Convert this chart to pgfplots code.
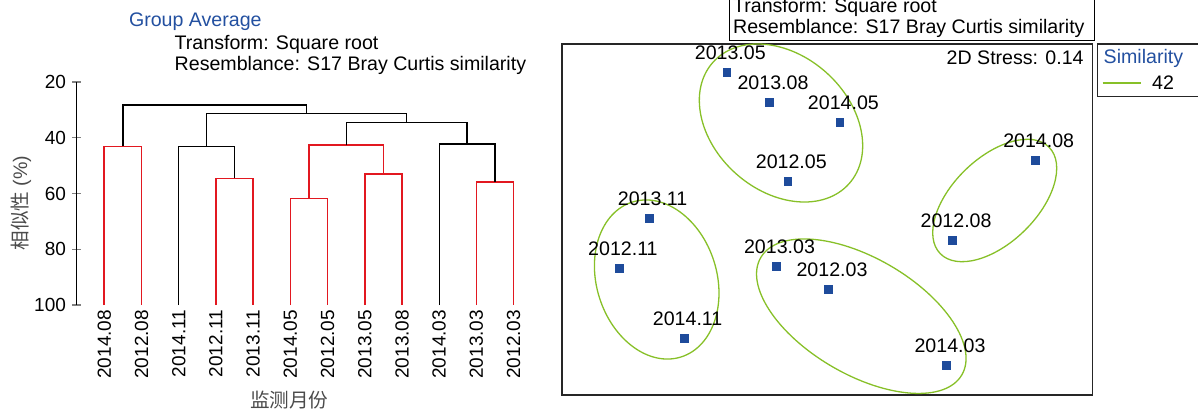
\documentclass[border=0pt]{standalone}
\usepackage{pgfplots}
\pgfplotsset{compat=1.18}
\usepackage{fontspec}
\setmainfont{Liberation Sans}
\newfontfamily\cjk{Noto Sans CJK SC}
\definecolor{dred}{RGB}{226,24,32}
\definecolor{tblue}{RGB}{35,80,160}
\definecolor{mblue}{RGB}{30,75,155}
\definecolor{egreen}{RGB}{135,192,40}
\definecolor{lgray}{RGB}{75,75,75}
\newcommand\fa{\fontsize{9.8pt}{11pt}\selectfont}
\newcommand\fb{\fontsize{9.5pt}{11pt}\selectfont}
\begin{document}
\begin{tikzpicture}
\useasboundingbox (0,0) rectangle (599pt,206.5pt);
% ---------------- dendrogram ----------------
\begin{axis}[
  at={(38.4pt,54pt)}, anchor=south west,
  scale only axis, width=227.7pt, height=111.5pt,
  xmin=-0.739, xmax=11.5, ymin=20, ymax=100, y dir=reverse,
  axis y line*=left, axis x line*=bottom,
  x axis line style={draw=none},
  y axis line style={line width=0.7pt, -},
  xtick={0,1,2,3,4,5,6,7,8,9,10,11},
  xticklabels={2014.08,2012.08,2014.11,2012.11,2013.11,2014.05,2012.05,2013.05,2013.08,2014.03,2013.03,2012.03},
  xtick style={draw=none},
  xticklabel style={rotate=90, anchor=east, font=\fb, inner sep=0pt},
  ytick={20,40,60,80,100},
  yticklabel style={font=\fb, anchor=east, inner sep=0pt, xshift=-3pt},
  ytick style={line width=0.7pt},
  tick align=center, major tick length=4.5pt,
  /pgf/number format/assume math mode=true,
  clip=false,
]
\addplot[dred, line width=0.8pt] coordinates {(0,100)(0,43.1)(1,43.1)(1,100)};
\addplot[dred, line width=0.8pt] coordinates {(3,100)(3,54.6)(4,54.6)(4,100)};
\addplot[dred, line width=0.8pt] coordinates {(5,100)(5,61.8)(6,61.8)(6,100)};
\addplot[dred, line width=0.8pt] coordinates {(7,100)(7,53.1)(8,53.1)(8,100)};
\addplot[dred, line width=0.8pt] coordinates {(5.5,61.8)(5.5,42.7)(7.5,42.7)(7.5,53.1)};
\addplot[dred, line width=0.8pt] coordinates {(10,100)(10,55.9)(11,55.9)(11,100)};
\addplot[black, line width=0.65pt] coordinates {(2,100)(2,43.1)(3.5,43.1)(3.5,54.6)};
\addplot[black, line width=0.65pt] coordinates {(0.5,43.1)(0.5,28.2)(5.4375,28.2)(5.4375,31.3)};
\addplot[black, line width=0.65pt] coordinates {(2.75,43.1)(2.75,31.3)(8.125,31.3)(8.125,34.5)};
\addplot[black, line width=0.65pt] coordinates {(6.5,42.7)(6.5,34.5)(9.75,34.5)(9.75,42.2)};
\addplot[black, line width=0.65pt] coordinates {(9,100)(9,42.2)(10.5,42.2)(10.5,55.9)};
\end{axis}
% ---------------- MDS ----------------
\begin{axis}[
  at={(281pt,9pt)}, anchor=south west,
  scale only axis, width=265.35pt, height=175.5pt,
  xmin=0, xmax=530.7, ymin=0, ymax=351,
  xtick=\empty, ytick=\empty,
  axis line style={line width=0.75pt, black!85},
  nodes near coords, point meta=explicit symbolic,
  every node near coord/.append style={anchor=center, xshift=1.75pt, yshift=9.75pt, font=\fa, text=black, inner sep=0pt},
]
\draw[egreen, line width=0.65pt, rotate around={-41.7:(axis cs:219,272)}] (axis cs:219,272) ellipse [x radius=91.2, y radius=67.8];
\draw[egreen, line width=0.65pt, rotate around={44.3:(axis cs:432.7,194.5)}] (axis cs:432.7,194.5) ellipse [x radius=76.1, y radius=42.4];
\draw[egreen, line width=0.65pt, rotate around={107.4:(axis cs:94.7,115.5)}] (axis cs:94.7,115.5) ellipse [x radius=81.2, y radius=60.1];
\draw[egreen, line width=0.65pt, rotate around={-30.25:(axis cs:299.3,78.8)}] (axis cs:299.3,78.8) ellipse [x radius=116.4, y radius=58.2];
\addplot[only marks, mark=square*, mark size=1.95pt, mblue] table[meta=label] {
x y label
164.8 322.3 2013.05
207.5 292.7 2013.08
277.9 272.3 2014.05
225.8 213.3 2012.05
473.2 234.3 2014.08
390.6 154.7 2012.08
87.1 176.7 2013.11
57.4 126.3 2012.11
122.1 56.3 2014.11
214.0 128.3 2013.03
266.5 105.7 2012.03
384.5 29.3 2014.03
};
\end{axis}
% ---------------- texts and boxes (pixel grid) ----------------
\begin{scope}[x=0.5pt, y=-0.5pt, yshift=206.5pt]
\node[anchor=base west, inner sep=0pt, font=\fa, text=tblue] at (128.6,26.7) {Group Average};
\node[anchor=base west, inner sep=0pt, font=\fa] at (174.3,50) {Transform: Square root};
\node[anchor=base west, inner sep=0pt, font=\fa] at (174.3,70.7) {Resemblance: S17 Bray Curtis similarity};
\node[rotate=90, inner sep=0pt, font=\fa, text=lgray] at (21,203) {{\cjk 相似性} (\%)};
\node[inner sep=0pt, font=\fa, text=lgray] at (289.3,400) {\cjk 监测月份};
\draw[line width=0.75pt, black] (729.3,-10) rectangle (1094.3,40.7);
\node[anchor=base west, inner sep=0pt, font=\fa] at (732.7,12.8) {Transform: Square root};
\node[anchor=base west, inner sep=0pt, font=\fa] at (732.7,33.3) {Resemblance: S17 Bray Curtis similarity};
\node[anchor=base east, inner sep=0pt, font=\fa] at (1084,65) {2D Stress: 0.14};
\draw[line width=0.75pt, black!85] (1097.3,44) rectangle (1215,96.7);
\node[anchor=base west, inner sep=0pt, font=\fa, text=tblue] at (1103.3,64) {Similarity};
\draw[egreen, line width=0.8pt] (1102.7,83) -- (1140.7,83);
\node[anchor=base west, inner sep=0pt, font=\fa] at (1151.7,90) {42};
\end{scope}
\end{tikzpicture}
\end{document}
